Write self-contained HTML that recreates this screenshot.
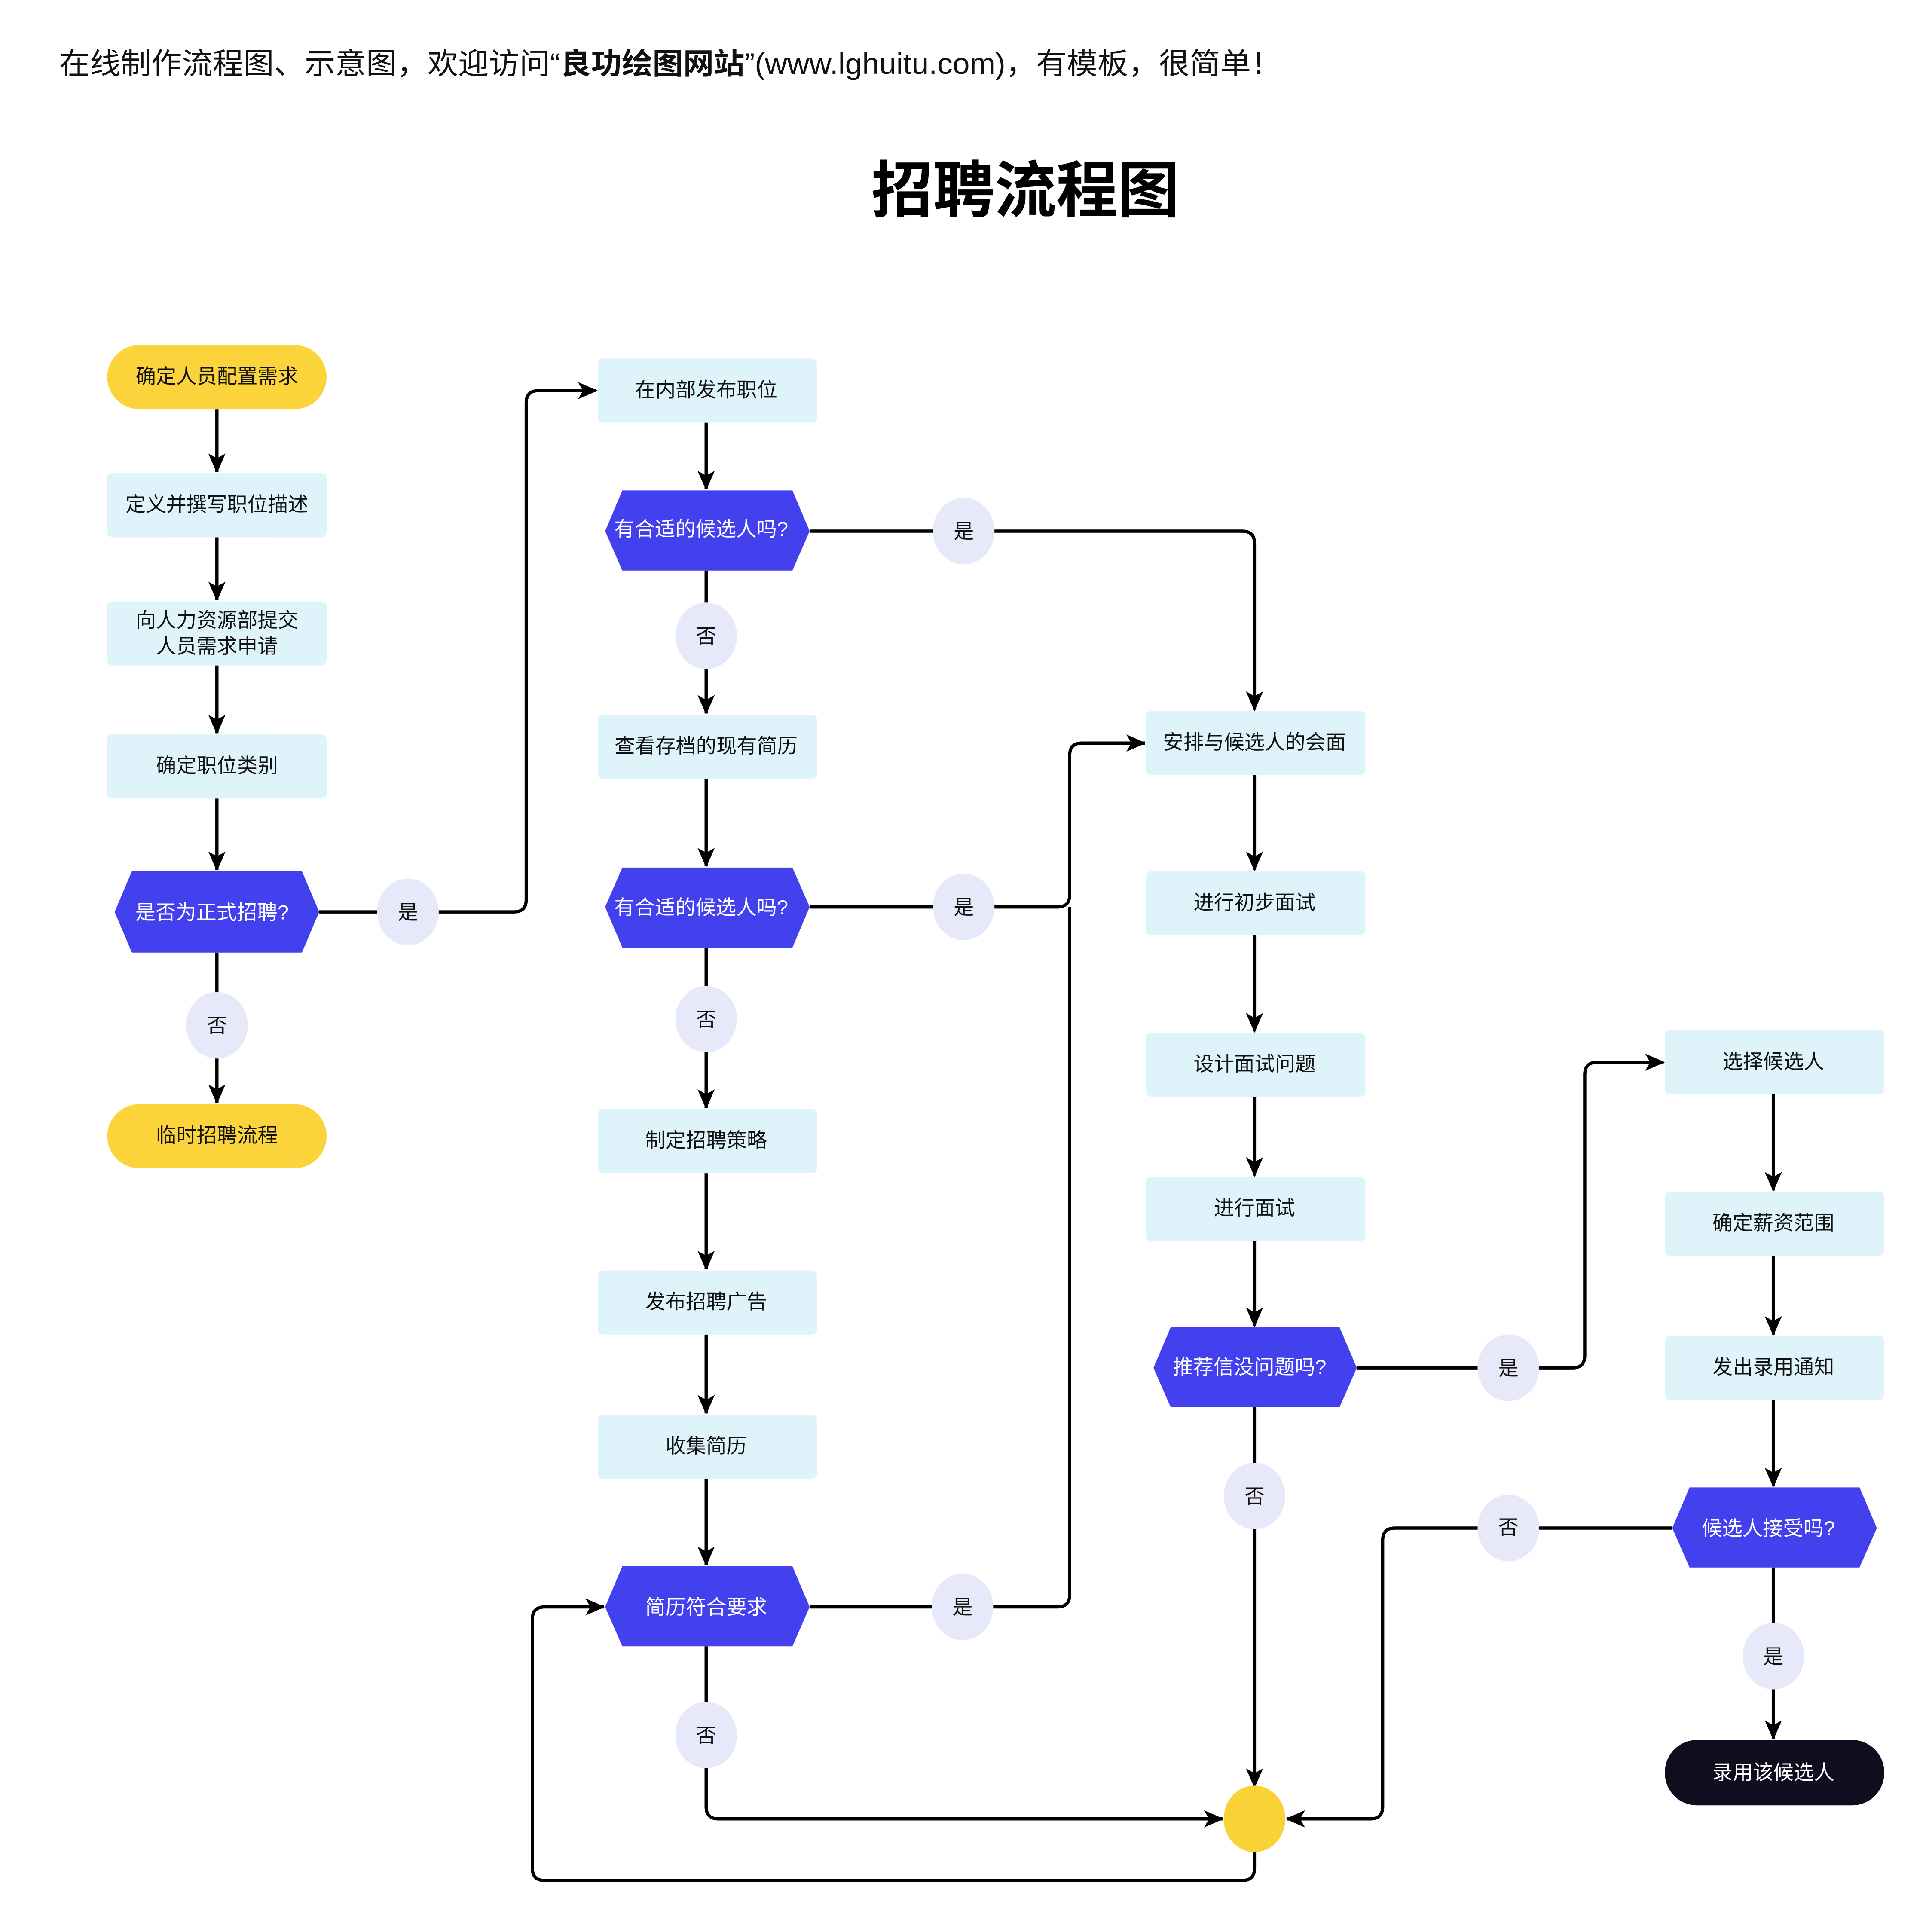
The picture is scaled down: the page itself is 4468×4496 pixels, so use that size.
<!DOCTYPE html>
<html><head><meta charset="utf-8"><style>
html,body{margin:0;padding:0;background:#fff;}
svg{display:block;}
text{font-family:"Liberation Sans","Noto Sans CJK SC",sans-serif;}
</style></head><body>
<svg width="4468" height="4496" viewBox="0 0 1558 1567.8" xmlns="http://www.w3.org/2000/svg">
<defs>
<marker id="a" markerWidth="16" markerHeight="14" refX="15" refY="7" orient="auto" markerUnits="userSpaceOnUse">
<path d="M0,0 L16,7 L0,14 L4,7 Z" fill="#000"/>
</marker>
</defs>
<rect width="1560" height="1570" fill="#fff"/>
<text x="48" y="60" font-size="24" fill="#111" textLength="992" lengthAdjust="spacingAndGlyphs">在线制作流程图、示意图，欢迎访问“<tspan font-weight="bold">良功绘图网站</tspan>”(www.lghuitu.com)，有模板，很简单！</text>
<text x="832" y="172" font-size="50" font-weight="bold" text-anchor="middle" fill="#000">招聘流程图</text>

<g fill="none" stroke="#000" stroke-width="2.6">
<path d="M176,332 V383" marker-end="url(#a)"/>
<path d="M176,436 V487" marker-end="url(#a)"/>
<path d="M176,540 V595" marker-end="url(#a)"/>
<path d="M176,648 V706" marker-end="url(#a)"/>
<path d="M176,773 V895" marker-end="url(#a)"/>
<path d="M259,740 H417 Q427,740 427,730 V327 Q427,317 437,317 H484" marker-end="url(#a)"/>
<path d="M573,343 V397" marker-end="url(#a)"/>
<path d="M573,463 V579" marker-end="url(#a)"/>
<path d="M573,632 V703" marker-end="url(#a)"/>
<path d="M573,769 V899" marker-end="url(#a)"/>
<path d="M573,952 V1030" marker-end="url(#a)"/>
<path d="M573,1083 V1147" marker-end="url(#a)"/>
<path d="M573,1200 V1270" marker-end="url(#a)"/>
<path d="M573,1336 V1466 Q573,1476 583,1476 H992" marker-end="url(#a)"/>
<path d="M657,431 H1008 Q1018,431 1018,441 V576" marker-end="url(#a)"/>
<path d="M657,736 H858 Q868,736 868,726 V613 Q868,603 878,603 H929" marker-end="url(#a)"/>
<path d="M657,1304 H858 Q868,1304 868,1294 V736"/>
<path d="M1018,629 V706" marker-end="url(#a)"/>
<path d="M1018,759 V837" marker-end="url(#a)"/>
<path d="M1018,890 V954" marker-end="url(#a)"/>
<path d="M1018,1007 V1076" marker-end="url(#a)"/>
<path d="M1018,1142 V1450" marker-end="url(#a)"/>
<path d="M1018,1501 V1516 Q1018,1526 1008,1526 H442 Q432,1526 432,1516 V1314 Q432,1304 442,1304 H490" marker-end="url(#a)"/>
<path d="M1101,1110 H1276 Q1286,1110 1286,1100 V872 Q1286,862 1296,862 H1350" marker-end="url(#a)"/>
<path d="M1439,888 V966" marker-end="url(#a)"/>
<path d="M1439,1019 V1083" marker-end="url(#a)"/>
<path d="M1439,1136 V1206" marker-end="url(#a)"/>
<path d="M1439,1272 V1411" marker-end="url(#a)"/>
<path d="M1357,1240 H1132 Q1122,1240 1122,1250 V1466 Q1122,1476 1112,1476 H1044" marker-end="url(#a)"/>
</g>

<g font-size="16.5" text-anchor="middle">
<rect x="87" y="280" width="178" height="52" rx="26" fill="#FBD43C"/>
<text x="176" y="311" fill="#111">确定人员配置需求</text>
<rect x="87" y="384" width="178" height="52" rx="4" fill="#DFF4FA"/>
<text x="176" y="415" fill="#111">定义并撰写职位描述</text>
<rect x="87" y="488" width="178" height="52" rx="4" fill="#DFF4FA"/>
<text x="176" y="509" fill="#111">向人力资源部提交</text>
<text x="176" y="530" fill="#111">人员需求申请</text>
<rect x="87" y="596" width="178" height="52" rx="4" fill="#DFF4FA"/>
<text x="176" y="627" fill="#111">确定职位类别</text>
<polygon points="93,740 107,707 245,707 259,740 245,773 107,773" fill="#4340EE"/>
<text x="172" y="746" fill="#fff">是否为正式招聘?</text>
<ellipse cx="176" cy="832" rx="25" ry="27" fill="#E8E8FB"/>
<text x="176" y="838" fill="#111">否</text>
<rect x="87" y="896" width="178" height="52" rx="26" fill="#FBD43C"/>
<text x="176" y="927" fill="#111">临时招聘流程</text>
<ellipse cx="331" cy="740" rx="25" ry="27" fill="#E8E8FB"/>
<text x="331" y="746" fill="#111">是</text>
<rect x="485" y="291" width="178" height="52" rx="4" fill="#DFF4FA"/>
<text x="573" y="322" fill="#111">在内部发布职位</text>
<polygon points="491,431 505,398 643,398 657,431 643,463 505,463" fill="#4340EE"/>
<text x="569" y="435" fill="#fff">有合适的候选人吗?</text>
<ellipse cx="573" cy="516" rx="25" ry="27" fill="#E8E8FB"/>
<text x="573" y="522" fill="#111">否</text>
<rect x="485" y="580" width="178" height="52" rx="4" fill="#DFF4FA"/>
<text x="573" y="611" fill="#111">查看存档的现有简历</text>
<polygon points="491,736 505,704 643,704 657,736 643,769 505,769" fill="#4340EE"/>
<text x="569" y="742" fill="#fff">有合适的候选人吗?</text>
<ellipse cx="573" cy="827" rx="25" ry="27" fill="#E8E8FB"/>
<text x="573" y="833" fill="#111">否</text>
<rect x="485" y="900" width="178" height="52" rx="4" fill="#DFF4FA"/>
<text x="573" y="931" fill="#111">制定招聘策略</text>
<rect x="485" y="1031" width="178" height="52" rx="4" fill="#DFF4FA"/>
<text x="573" y="1062" fill="#111">发布招聘广告</text>
<rect x="485" y="1148" width="178" height="52" rx="4" fill="#DFF4FA"/>
<text x="573" y="1179" fill="#111">收集简历</text>
<polygon points="491,1304 505,1271 643,1271 657,1304 643,1336 505,1336" fill="#4340EE"/>
<text x="573" y="1310" fill="#fff">简历符合要求</text>
<ellipse cx="573" cy="1408" rx="25" ry="27" fill="#E8E8FB"/>
<text x="573" y="1414" fill="#111">否</text>
<ellipse cx="782" cy="431" rx="25" ry="27" fill="#E8E8FB"/>
<text x="782" y="437" fill="#111">是</text>
<ellipse cx="782" cy="736" rx="25" ry="27" fill="#E8E8FB"/>
<text x="782" y="742" fill="#111">是</text>
<ellipse cx="781" cy="1304" rx="25" ry="27" fill="#E8E8FB"/>
<text x="781" y="1310" fill="#111">是</text>
<rect x="930" y="577" width="178" height="52" rx="4" fill="#DFF4FA"/>
<text x="1018" y="608" fill="#111">安排与候选人的会面</text>
<rect x="930" y="707" width="178" height="52" rx="4" fill="#DFF4FA"/>
<text x="1018" y="738" fill="#111">进行初步面试</text>
<rect x="930" y="838" width="178" height="52" rx="4" fill="#DFF4FA"/>
<text x="1018" y="869" fill="#111">设计面试问题</text>
<rect x="930" y="955" width="178" height="52" rx="4" fill="#DFF4FA"/>
<text x="1018" y="986" fill="#111">进行面试</text>
<polygon points="936,1110 950,1077 1087,1077 1101,1110 1087,1142 950,1142" fill="#4340EE"/>
<text x="1014" y="1115" fill="#fff">推荐信没问题吗?</text>
<ellipse cx="1018" cy="1214" rx="25" ry="27" fill="#E8E8FB"/>
<text x="1018" y="1220" fill="#111">否</text>
<ellipse cx="1018" cy="1476" rx="25" ry="27" fill="#F9D237"/>
<ellipse cx="1224" cy="1110" rx="25" ry="27" fill="#E8E8FB"/>
<text x="1224" y="1116" fill="#111">是</text>
<ellipse cx="1224" cy="1240" rx="25" ry="27" fill="#E8E8FB"/>
<text x="1224" y="1245" fill="#111">否</text>
<rect x="1351" y="836" width="178" height="52" rx="4" fill="#DFF4FA"/>
<text x="1439" y="867" fill="#111">选择候选人</text>
<rect x="1351" y="967" width="178" height="52" rx="4" fill="#DFF4FA"/>
<text x="1439" y="998" fill="#111">确定薪资范围</text>
<rect x="1351" y="1084" width="178" height="52" rx="4" fill="#DFF4FA"/>
<text x="1439" y="1115" fill="#111">发出录用通知</text>
<polygon points="1357,1240 1371,1207 1509,1207 1523,1240 1509,1272 1371,1272" fill="#4340EE"/>
<text x="1435" y="1246" fill="#fff">候选人接受吗?</text>
<ellipse cx="1439" cy="1344" rx="25" ry="27" fill="#E8E8FB"/>
<text x="1439" y="1350" fill="#111">是</text>
<rect x="1351" y="1412" width="178" height="53" rx="26" fill="#0F0E1E"/>
<text x="1439" y="1444" fill="#fff">录用该候选人</text>
</g>
</svg>
</body></html>
